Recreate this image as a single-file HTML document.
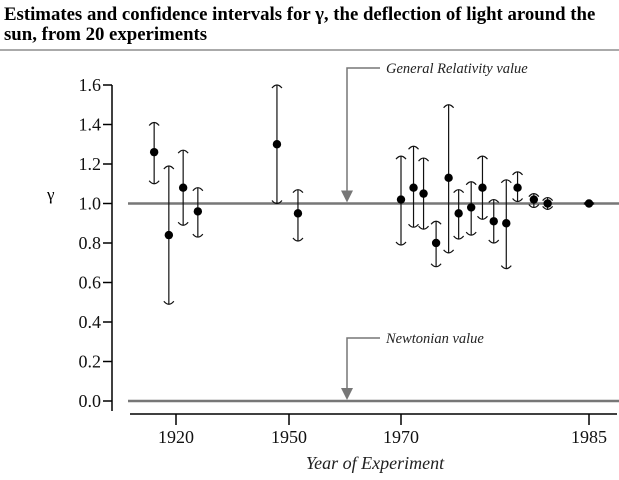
<!DOCTYPE html>
<html><head><meta charset="utf-8">
<style>
html,body{margin:0;padding:0;background:#fff;width:619px;height:480px;overflow:hidden}
svg text{font-family:"Liberation Serif",serif}
</style></head>
<body>
<svg id="c" width="619" height="480" xmlns="http://www.w3.org/2000/svg">
<text style="font-family:'Liberation Serif',serif" x="4" y="20" font-size="18.8" font-weight="bold">Estimates and confidence intervals for γ, the deflection of light around the</text>
<text style="font-family:'Liberation Serif',serif" x="4" y="40" font-size="18.8" font-weight="bold">sun, from 20 experiments</text>
<line x1="0" y1="50" x2="619" y2="50" stroke="#555" stroke-width="1"/>
<g id="axes"></g>
<g id="marks"></g>
</svg>
<script>
const years = [1914.2,1918.1,1921.9,1925.8,1946.8,1951.6,1970.0,1971.0,1971.8,1972.8,1973.8,1974.6,1975.6,1976.5,1977.4,1978.4,1979.3,1980.6,1981.7,1985.0];
const estimates = [1.26,0.84,1.08,0.96,1.30,0.95,1.02,1.08,1.05,0.80,1.13,0.95,0.98,1.08,0.91,0.90,1.08,1.02,1.00,1.00];
const lowers = [1.10,0.49,0.89,0.83,1.00,0.81,0.79,0.88,0.87,0.68,0.75,0.82,0.84,0.92,0.80,0.67,1.01,0.98,0.97,0.99];
const uppers = [1.41,1.19,1.27,1.08,1.60,1.07,1.24,1.29,1.23,0.91,1.50,1.07,1.11,1.24,1.02,1.12,1.16,1.05,1.03,1.01];
const yTicks = [0.0,0.2,0.4,0.6,0.8,1.0,1.2,1.4,1.6];
const yTickLabels = ["0.0","0.2","0.4","0.6","0.8","1.0","1.2","1.4","1.6"];
const xTicks = [1920,1950,1970,1985];
const xTickLabels = ["1920","1950","1970","1985"];

const NS="http://www.w3.org/2000/svg";
function yS(v){return 401 - v*197.5;}
const bx=[1920,1950,1970,1985], bp=[176,289,401,589];
function xS(y){
  let i = y<1950?0:(y<1970?1:2);
  return bp[i] + (y-bx[i])*(bp[i+1]-bp[i])/(bx[i+1]-bx[i]);
}
function mk(tag,attrs,parent){const e=document.createElementNS(NS,tag);for(const k in attrs)e.setAttribute(k,attrs[k]);if(tag==='text')e.style.fontFamily='"Liberation Serif", serif';parent.appendChild(e);return e;}
const axes=document.getElementById('axes'), marks=document.getElementById('marks');

let ya=mk('line',{x1:112,y1:yS(1.6),x2:112,y2:yS(0)+10,stroke:'#000','stroke-width':1.5},axes);


yTicks.forEach((v,i)=>{
  const tk=mk('line',{x1:103,y1:yS(v),x2:112,y2:yS(v),stroke:'#000','stroke-width':1.5},axes);
  
  
  const tl=mk('text',{x:101,y:yS(v)+6,'text-anchor':'end','font-size':18,fill:'#111'},axes);
  tl.textContent=yTickLabels[i];
  
  
});
let yt=mk('text',{x:47,y:200,'font-size':17},axes);yt.textContent='γ';



let xa=mk('line',{x1:130,y1:414,x2:617,y2:414,stroke:'#000','stroke-width':1.5},axes);


xTicks.forEach((v,i)=>{
  const tk=mk('line',{x1:xS(v),y1:414,x2:xS(v),y2:425,stroke:'#000','stroke-width':1.5},axes);
  
  
  const tl=mk('text',{x:xS(v),y:443,'text-anchor':'middle','font-size':18,fill:'#111'},axes);
  tl.textContent=xTickLabels[i];
  
  
});
let xt=mk('text',{x:375,y:469,'text-anchor':'middle','font-size':18,'font-style':'italic',fill:'#222'},axes);xt.textContent='Year of Experiment';



[[1.0,'general-relativity-line'],[0.0,'newtonian-line']].forEach(r=>{
  const l=mk('line',{x1:128,y1:yS(r[0]),x2:619,y2:yS(r[0]),stroke:'#777','stroke-width':2.5},axes);
  
  
});
function annot(yTop,yVal,label,name){
  const g=mk('g',{},axes);
  
  
  mk('path',{d:`M380 ${yTop} H347 V${yS(yVal)-12}`,stroke:'#777','stroke-width':1.5,fill:'none'},g);
  mk('path',{d:`M341 ${yS(yVal)-13} L353 ${yS(yVal)-13} L347 ${yS(yVal)-1} Z`,fill:'#777'},g);
  const t=mk('text',{x:386,y:yTop+5,'font-size':14.5,'font-style':'italic',fill:'#222'},g);t.textContent=label;
}
annot(68,1.0,'General Relativity value','gr-annotation');
annot(338,0.0,'Newtonian value','newtonian-annotation');

years.forEach((yr,i)=>{
  const x=xS(yr), yl=yS(lowers[i]), yu=yS(uppers[i]), ye=yS(estimates[i]);
  const g=mk('g',{},marks);
  
  
  mk('line',{x1:x,y1:yu,x2:x,y2:yl,stroke:'#111','stroke-width':1.2},g);
  mk('path',{d:`M${x-5} ${yu+3} Q${x} ${yu-3} ${x+5} ${yu+3}`,stroke:'#111','stroke-width':1.2,fill:'none'},g);
  mk('path',{d:`M${x-5} ${yl-3} Q${x} ${yl+3} ${x+5} ${yl-3}`,stroke:'#111','stroke-width':1.2,fill:'none'},g);
  mk('circle',{cx:x,cy:ye,r:4.2,fill:'#000'},g);
});
</script>
</body></html>
